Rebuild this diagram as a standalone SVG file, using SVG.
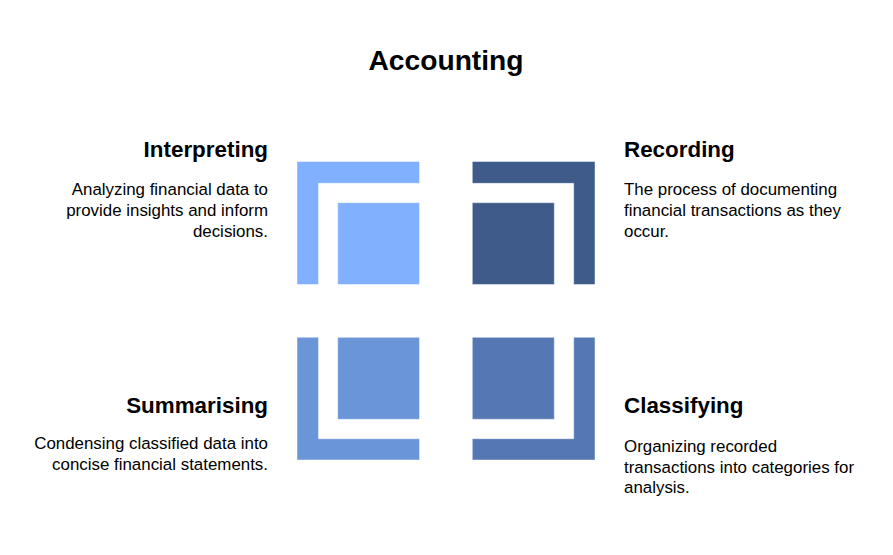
<svg xmlns="http://www.w3.org/2000/svg" width="893" height="555" viewBox="0 0 893 555">
<style>
text{font-family:"Liberation Sans",Arial,sans-serif;fill:#000}
.title{font-size:28.2px;font-weight:bold}
.h{font-size:22.4px;font-weight:bold}
.b{font-size:16.9px}
.shape{stroke:#fff;stroke-opacity:0.45;stroke-width:1}
</style>
<rect width="893" height="555" fill="#fff"/>
<text class="title" x="446" y="70" text-anchor="middle">Accounting</text>
<g id="interpreting">
<path class="shape" fill="#80B0FF" d="M297,161.5H419.5V183.3H318.5V284.5H297Z"/>
<rect class="shape" fill="#80B0FF" x="337.7" y="202.7" width="81.8" height="81.8"/>
<text class="h" x="268" y="157" text-anchor="end">Interpreting</text>
<text class="b" text-anchor="end"><tspan x="268" y="195">Analyzing financial data to</tspan><tspan x="268" y="216">provide insights and inform</tspan><tspan x="268" y="237">decisions.</tspan></text>
</g>
<g id="recording">
<path class="shape" fill="#3E5B8A" d="M472.3,161.5H595V284.5H573.7V183.3H472.3Z"/>
<rect class="shape" fill="#3E5B8A" x="472.3" y="202.7" width="82" height="81.8"/>
<text class="h" x="624" y="157">Recording</text>
<text class="b"><tspan x="624" y="195">The process of documenting</tspan><tspan x="624" y="216">financial transactions as they</tspan><tspan x="624" y="237">occur.</tspan></text>
</g>
<g id="summarising">
<path class="shape" fill="#6A96D8" d="M297,337.3H318.5V438.7H419.5V460H297Z"/>
<rect class="shape" fill="#6A96D8" x="337.7" y="337.3" width="81.8" height="82"/>
<text class="h" x="268" y="413" text-anchor="end">Summarising</text>
<text class="b" text-anchor="end"><tspan x="268" y="449">Condensing classified data into</tspan><tspan x="268" y="470">concise financial statements.</tspan></text>
</g>
<g id="classifying">
<path class="shape" fill="#5578B4" d="M573.7,337.3H595V460H472.3V438.7H573.7Z"/>
<rect class="shape" fill="#5578B4" x="472.3" y="337.3" width="82" height="82"/>
<text class="h" x="624" y="413">Classifying</text>
<text class="b"><tspan x="624" y="452">Organizing recorded</tspan><tspan x="624" y="473">transactions into categories for</tspan><tspan x="624" y="493">analysis.</tspan></text>
</g>
<g id="connectors"/>
</svg>
